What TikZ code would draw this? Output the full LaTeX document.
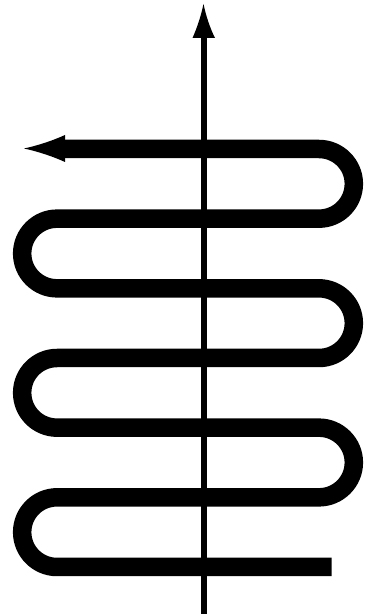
\documentclass[tikz,border=0pt]{standalone}
\begin{document}
\begin{tikzpicture}[x=1pt,y=1pt,
  coil/.style={line width=18.5pt, line cap=butt, line join=round},
  axis/.style={line width=6.5pt, line cap=butt},
  headfill/.style={fill=black, draw=none}]
\useasboundingbox (0,0) rectangle (369,614);
\def\r{34.83}
% serpentine coil
\coordinate (cs) at (64,465);
\coordinate (ce) at (331.5,47);
\draw[coil] (cs) -- (319,465) arc[start angle=90, end angle=-90, radius=\r]
  -- (57,395.33) arc[start angle=90, end angle=270, radius=\r]
  -- (319,325.67) arc[start angle=90, end angle=-90, radius=\r]
  -- (57,256) arc[start angle=90, end angle=270, radius=\r]
  -- (319,186.33) arc[start angle=90, end angle=-90, radius=\r]
  -- (57,116.67) arc[start angle=90, end angle=270, radius=\r]
  -- (ce);
% left arrowhead of coil
\coordinate (ltip) at (24,465.5);
\fill[headfill] (ltip) .. controls (40,469) and (54,474) .. (65,479)
  -- (65,452) .. controls (54,457) and (40,462) .. (ltip) -- cycle;
% vertical axis
\coordinate (vb) at (204,0);
\coordinate (vt) at (204,578);
\draw[axis] (vb) -- (vt);
\coordinate (vtip) at (203.5,610);
\fill[headfill] (vtip) .. controls (201,598) and (197,586) .. (192.5,576)
  -- (215,576) .. controls (210,586) and (206,598) .. (vtip) -- cycle;
\end{tikzpicture}
\end{document}
